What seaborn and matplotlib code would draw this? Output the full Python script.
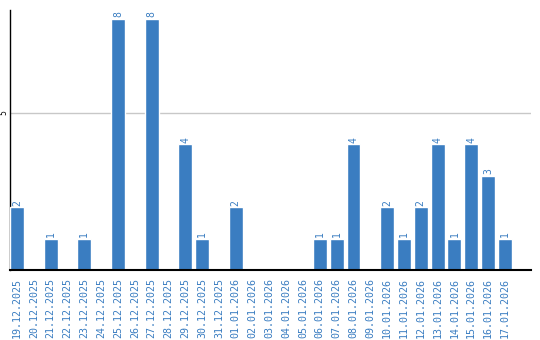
import matplotlib
matplotlib.use("Agg")
import matplotlib.pyplot as plt
import seaborn as sns
import pandas as pd

dates = ["19.12.2025", "20.12.2025", "21.12.2025", "22.12.2025", "23.12.2025",
         "24.12.2025", "25.12.2025", "26.12.2025", "27.12.2025", "28.12.2025",
         "29.12.2025", "30.12.2025", "31.12.2025", "01.01.2026", "02.01.2026",
         "03.01.2026", "04.01.2026", "05.01.2026", "06.01.2026", "07.01.2026",
         "08.01.2026", "09.01.2026", "10.01.2026", "11.01.2026", "12.01.2026",
         "13.01.2026", "14.01.2026", "15.01.2026", "16.01.2026", "17.01.2026"]
values = [2, 0, 1, 0, 1, 0, 8, 0, 8, 0,
          4, 1, 0, 2, 0, 0, 0, 0, 1, 1,
          4, 0, 2, 1, 2, 4, 1, 4, 3, 1]

df = pd.DataFrame({"date": dates, "value": values})

sns.set_style("white")
blue = "#3a7dc1"

fig = plt.figure(figsize=(5.4, 3.4), dpi=100)
ax = fig.add_axes([10/540, 70/340, 521/540, 260/340])

w = 0.83
sns.barplot(data=df, x="date", y="value", color=blue, width=w, saturation=1,
            ax=ax, zorder=3)

ax.set_xlim(-w/2, 30.55)
ax.set_ylim(0, 8.28)
ax.set_yticks([5])
ax.set_yticklabels(["5"], rotation=90, va="center", fontsize=5.5, color="black")
ax.yaxis.grid(True, color="#c8c8c8", linewidth=1, zorder=0)
ax.set_axisbelow(True)
ax.tick_params(axis="y", length=0, pad=1)
ax.tick_params(axis="x", length=0, pad=6)
ax.set_xticks(range(len(dates)))
ax.set_xticklabels(dates, rotation=90, fontsize=7.2, color=blue,
                   family="DejaVu Sans Mono", va="top")
ax.set_xlabel("")
ax.set_ylabel("")

for s in ["top", "right"]:
    ax.spines[s].set_visible(False)
ax.spines["left"].set_color("black")
ax.spines["left"].set_linewidth(1)
ax.spines["bottom"].set_color("black")
ax.spines["bottom"].set_linewidth(1.5)
ax.spines["bottom"].set_zorder(5)

for i, v in enumerate(values):
    if v > 0:
        ax.text(i, v + 0.05, str(v), rotation=90, ha="center", va="bottom",
                fontsize=7, color=blue, family="DejaVu Sans Mono")

fig.savefig("out.png", dpi=100)
